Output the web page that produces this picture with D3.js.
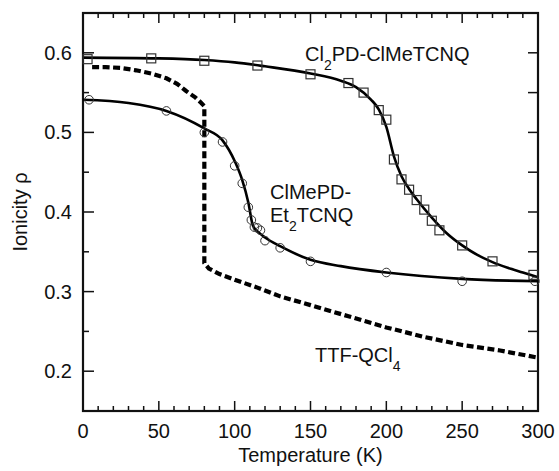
<!DOCTYPE html>
<html>
<head>
<meta charset="utf-8">
<script src="https://cdn.jsdelivr.net/npm/d3@7"></script>
<style>
  body { margin: 0; background: #fff; }
  text { font-family: "Liberation Sans", Arial, sans-serif; fill: #111; }
</style>
</head>
<body>
<script>
// Cl2PD-ClMeTCNQ (squares + fit)
var sqT   = [3, 45, 80, 115, 150, 175, 185, 195, 200, 205, 210, 215, 220, 225, 230, 235, 250, 270, 297];
var sqRho = [0.592, 0.593, 0.590, 0.584, 0.573, 0.562, 0.550, 0.528, 0.516, 0.466, 0.441, 0.428, 0.415, 0.403, 0.389, 0.377, 0.358, 0.338, 0.321];
var sqFitT   = [0, 50, 80, 100, 120, 150, 170, 180, 190, 195, 200, 205, 210, 215, 220, 230, 240, 250, 260, 270, 280, 290, 300];
var sqFitRho = [0.594, 0.593, 0.591, 0.588, 0.583, 0.574, 0.565, 0.557, 0.541, 0.529, 0.507, 0.470, 0.445, 0.429, 0.416, 0.393, 0.373, 0.358, 0.346, 0.337, 0.330, 0.324, 0.318];

// ClMePD-Et2TCNQ (circles + fit)
var ciT   = [4, 55, 80, 92, 100, 105, 109, 111, 113, 115, 117, 120, 130, 150, 200, 250, 298];
var ciRho = [0.541, 0.527, 0.500, 0.488, 0.458, 0.436, 0.406, 0.390, 0.381, 0.380, 0.377, 0.364, 0.355, 0.338, 0.324, 0.313, 0.313];
var ciFitT   = [0, 30, 55, 80, 92, 100, 105, 109, 112, 116, 120, 130, 150, 170, 200, 250, 300];
var ciFitRho = [0.541, 0.537, 0.527, 0.505, 0.490, 0.464, 0.440, 0.412, 0.383, 0.374, 0.368, 0.357, 0.340, 0.332, 0.324, 0.316, 0.313];

// TTF-QCl4 (dashed)
var ttfT   = [6, 15, 25, 35, 45, 55, 62, 68, 74, 78, 80, 80, 83, 90, 100, 115, 130, 150, 175, 200, 225, 250, 275, 300];
var ttfRho = [0.582, 0.582, 0.581, 0.578, 0.574, 0.568, 0.561, 0.552, 0.544, 0.537, 0.533, 0.336, 0.329, 0.322, 0.315, 0.305, 0.294, 0.283, 0.269, 0.255, 0.243, 0.233, 0.226, 0.217];

var xTicks = [0, 50, 100, 150, 200, 250, 300];
var yTicks = [0.2, 0.3, 0.4, 0.5, 0.6];

var W = 559, H = 471;
var pL = 83, pT = 13, pR = 538, pB = 411;

var svg = d3.select("body").append("svg")
    .attr("width", W)
    .attr("height", H);

var x = d3.scaleLinear().domain([0, 300]).range([pL, pR]);
var y = d3.scaleLinear().domain([0.15, 0.65]).range([pB, pT]);

// ticks (inward)
var minorX = d3.range(0, 301, 10);
var minorY = d3.range(0.15, 0.651, 0.05);
var g = svg.append("g").attr("stroke", "#111").attr("stroke-width", 1.5);

minorX.forEach(function(t) {
    var major = t % 50 === 0;
    var len = major ? 10 : 5;
    g.append("line").attr("x1", x(t)).attr("x2", x(t)).attr("y1", pB).attr("y2", pB - len);
    g.append("line").attr("x1", x(t)).attr("x2", x(t)).attr("y1", pT).attr("y2", pT + len);
});
minorY.forEach(function(v) {
    var major = Math.abs(Math.round(v * 10) - v * 10) < 1e-6;
    g.append("line").attr("x1", pL).attr("x2", pL + (major ? 11 : 6)).attr("y1", y(v)).attr("y2", y(v));
    g.append("line").attr("x1", pR).attr("x2", pR - 10).attr("y1", y(v)).attr("y2", y(v));
});

// frame
svg.append("rect")
    .attr("x", pL).attr("y", pT)
    .attr("width", pR - pL).attr("height", pB - pT)
    .attr("fill", "none").attr("stroke", "#111").attr("stroke-width", 2.2);

// tick labels
svg.selectAll(".xl").data(xTicks).enter().append("text")
    .attr("x", function(d) { return x(d); })
    .attr("y", 438)
    .attr("text-anchor", "middle")
    .attr("font-size", 20)
    .text(function(d) { return d; });

svg.selectAll(".yl").data(yTicks).enter().append("text")
    .attr("x", 72)
    .attr("y", function(d) { return y(d) + 7; })
    .attr("text-anchor", "end")
    .attr("font-size", 20)
    .text(function(d) { return d3.format(".1f")(d); });

// axis titles
svg.append("text")
    .attr("x", (pL + pR) / 2).attr("y", 462)
    .attr("text-anchor", "middle").attr("font-size", 20)
    .text("Temperature (K)");
svg.append("text")
    .attr("transform", "translate(27," + ((pT + pB) / 2) + ") rotate(-90)")
    .attr("text-anchor", "middle").attr("font-size", 20)
    .text("Ionicity ρ");

// lines
var line = d3.line()
    .x(function(d) { return x(d[0]); })
    .y(function(d) { return y(d[1]); });

svg.append("path")
    .attr("d", line.curve(d3.curveLinear)(d3.zip(ttfT, ttfRho)))
    .attr("fill", "none").attr("stroke", "#000")
    .attr("stroke-width", 4.2)
    .attr("stroke-dasharray", "7,3.5");

svg.append("path")
    .attr("d", line.curve(d3.curveMonotoneX)(d3.zip(sqFitT, sqFitRho)))
    .attr("fill", "none").attr("stroke", "#000").attr("stroke-width", 2.6);

svg.append("path")
    .attr("d", line.curve(d3.curveMonotoneX)(d3.zip(ciFitT, ciFitRho)))
    .attr("fill", "none").attr("stroke", "#000").attr("stroke-width", 2.6);

// markers
svg.selectAll(".sq").data(d3.zip(sqT, sqRho)).enter().append("rect")
    .attr("x", function(d) { return x(d[0]) - 4.5; })
    .attr("y", function(d) { return y(d[1]) - 4.5; })
    .attr("width", 9).attr("height", 9)
    .attr("fill", "none").attr("stroke", "#333").attr("stroke-width", 1.2);

svg.selectAll(".ci").data(d3.zip(ciT, ciRho)).enter().append("circle")
    .attr("cx", function(d) { return x(d[0]); })
    .attr("cy", function(d) { return y(d[1]); })
    .attr("r", 4.3)
    .attr("fill", "none").attr("stroke", "#333").attr("stroke-width", 1);

// annotations
function label(px, py, parts) {
    var t = svg.append("text").attr("x", px).attr("y", py).attr("font-size", 20);
    parts.forEach(function(p) {
        var s = t.append("tspan").text(p[0]);
        if (p[1]) s.attr("font-size", 14).attr("dy", 9);
        else if (p[2]) s.attr("dy", -9);
    });
}
label(305, 61, [["Cl"], ["2", true], ["PD-ClMeTCNQ", false, true]]);
label(270, 199, [["ClMePD-"]]);
label(270, 222, [["Et"], ["2", true], ["TCNQ", false, true]]);
label(315, 362, [["TTF-QCl"], ["4", true]]);
</script>
</body>
</html>
